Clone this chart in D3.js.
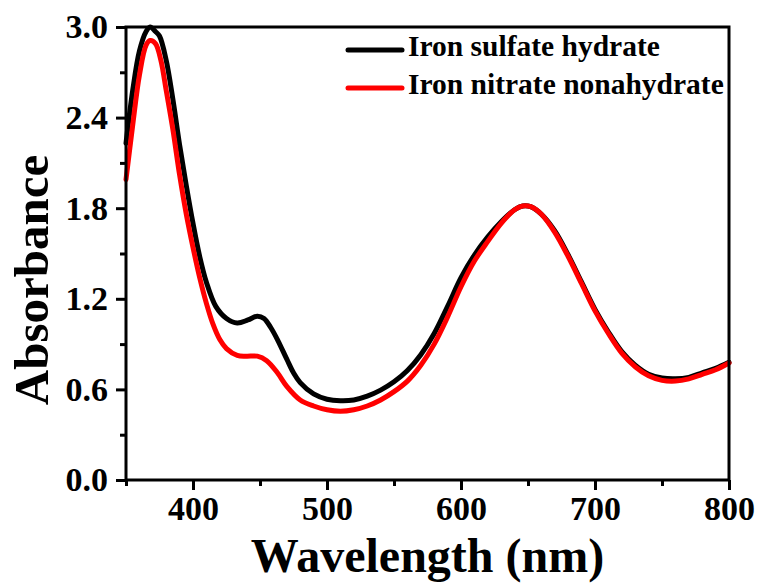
<!DOCTYPE html>
<html>
<head>
<meta charset="utf-8">
<script src="https://cdn.jsdelivr.net/npm/d3@7"></script>
<style>
  html, body { margin: 0; padding: 0; background: #fff; }
  svg { display: block; }
  text { font-family: "Liberation Serif", "Times New Roman", serif; font-weight: bold; fill: #000; }
</style>
</head>
<body>
<svg id="chart" width="764" height="587"></svg>
<script>
// UV-Vis absorbance spectra
const seriesNames = ["Iron sulfate hydrate", "Iron nitrate nonahydrate"];
const seriesColors = ["#000000", "#ff0000"];

const sulfateWavelength = [350, 355, 360, 365, 368, 372, 375, 380, 385, 390, 395, 400, 405, 410, 417, 425, 433, 441, 448, 453, 458, 463, 470, 475, 480, 490, 500, 510, 520, 530, 540, 550, 560, 570, 580, 590, 600, 610, 620, 630, 640, 646, 652, 660, 670, 680, 690, 700, 710, 720, 730, 740, 750, 760, 770, 780, 790, 800];
const sulfateAbsorbance = [2.23, 2.58, 2.84, 2.97, 3.0, 2.97, 2.94, 2.78, 2.52, 2.22, 1.95, 1.70, 1.48, 1.31, 1.15, 1.07, 1.04, 1.06, 1.085, 1.07, 1.01, 0.93, 0.80, 0.71, 0.645, 0.57, 0.535, 0.525, 0.53, 0.555, 0.595, 0.65, 0.725, 0.83, 0.97, 1.15, 1.34, 1.49, 1.61, 1.71, 1.79, 1.815, 1.81, 1.76, 1.65, 1.49, 1.31, 1.13, 0.98, 0.85, 0.76, 0.70, 0.675, 0.67, 0.68, 0.71, 0.74, 0.78];

const nitrateWavelength = [350, 355, 360, 365, 368, 372, 376, 380, 385, 390, 395, 400, 405, 410, 415, 420, 425, 433, 440, 448, 455, 463, 470, 480, 490, 500, 510, 520, 530, 540, 550, 560, 570, 580, 590, 600, 610, 620, 630, 640, 646, 652, 660, 670, 680, 690, 700, 710, 720, 730, 740, 750, 760, 770, 780, 790, 800];
const nitrateAbsorbance = [1.99, 2.35, 2.68, 2.88, 2.91, 2.89, 2.78, 2.58, 2.32, 2.02, 1.76, 1.54, 1.34, 1.17, 1.03, 0.93, 0.87, 0.825, 0.82, 0.82, 0.79, 0.71, 0.62, 0.53, 0.49, 0.465, 0.455, 0.465, 0.49, 0.53, 0.585, 0.655, 0.76, 0.90, 1.08, 1.28, 1.45, 1.58, 1.70, 1.79, 1.815, 1.81, 1.76, 1.64, 1.48, 1.30, 1.12, 0.97, 0.84, 0.75, 0.69, 0.66, 0.655, 0.67, 0.70, 0.73, 0.775];

const xMajorTicks = [400, 500, 600, 700, 800];
const xMinorTicks = [350, 450, 550, 650, 750];
const yMajorTicks = [0.0, 0.6, 1.2, 1.8, 2.4, 3.0];
const yMinorTicks = [0.3, 0.9, 1.5, 2.1, 2.7];

const xTitle = "Wavelength (nm)";
const yTitle = "Absorbance";

const svg = d3.select("#chart");
const plot = { left: 126, right: 729, top: 27, bottom: 480 };

const x = d3.scaleLinear().domain([350, 800]).range([plot.left, plot.right]);
const y = d3.scaleLinear().domain([0, 3.0]).range([plot.bottom, plot.top]);

const series = [
  { name: seriesNames[0], color: seriesColors[0],
    points: sulfateWavelength.map((w, i) => [w, sulfateAbsorbance[i]]) },
  { name: seriesNames[1], color: seriesColors[1],
    points: nitrateWavelength.map((w, i) => [w, nitrateAbsorbance[i]]) }
];

// curves
const line = d3.line()
  .x(d => x(d[0]))
  .y(d => y(d[1]))
  .curve(d3.curveCatmullRom.alpha(0.5));

svg.append("g")
  .selectAll("path")
  .data(series)
  .join("path")
  .attr("d", d => line(d.points))
  .attr("fill", "none")
  .attr("stroke", d => d.color)
  .attr("stroke-width", 5)
  .attr("stroke-linejoin", "round")
  .attr("stroke-linecap", "round");

// frame
svg.append("rect")
  .attr("x", plot.left).attr("y", plot.top)
  .attr("width", plot.right - plot.left)
  .attr("height", plot.bottom - plot.top)
  .attr("fill", "none")
  .attr("stroke", "#000")
  .attr("stroke-width", 3);

// bottom axis
const xAxis = svg.append("g").attr("transform", `translate(0,${plot.bottom})`);
xAxis.call(d3.axisBottom(x).tickValues(xMajorTicks).tickSize(10).tickPadding(6).tickFormat(d3.format("d")));
xAxis.append("g").call(d3.axisBottom(x).tickValues(xMinorTicks).tickSize(6).tickFormat(""));
xAxis.selectAll(".domain").remove();
xAxis.selectAll("line").attr("stroke", "#000").attr("stroke-width", 3);
xAxis.selectAll("text")
  .style("font-family", "'Liberation Serif', serif")
  .style("font-weight", "bold")
  .style("font-size", "34px")
  .attr("fill", "#000");

// left axis
const yAxis = svg.append("g").attr("transform", `translate(${plot.left},0)`);
yAxis.call(d3.axisLeft(y).tickValues(yMajorTicks).tickSize(10).tickPadding(8).tickFormat(d3.format(".1f")));
yAxis.append("g").call(d3.axisLeft(y).tickValues(yMinorTicks).tickSize(6).tickFormat(""));
yAxis.selectAll(".domain").remove();
yAxis.selectAll("line").attr("stroke", "#000").attr("stroke-width", 3);
yAxis.selectAll("text")
  .style("font-family", "'Liberation Serif', serif")
  .style("font-weight", "bold")
  .style("font-size", "34px")
  .attr("fill", "#000");

// axis titles
svg.append("text")
  .attr("x", (plot.left + plot.right) / 2)
  .attr("y", 572)
  .attr("text-anchor", "middle")
  .style("font-size", "48px")
  .text(xTitle);

svg.append("text")
  .attr("transform", "translate(48,280) rotate(-90)")
  .attr("text-anchor", "middle")
  .style("font-size", "49px")
  .text(yTitle);

// legend
const legend = svg.append("g");
const legendRows = [50, 88];
series.forEach((s, i) => {
  legend.append("line")
    .attr("x1", 348).attr("x2", 402)
    .attr("y1", legendRows[i]).attr("y2", legendRows[i])
    .attr("stroke", s.color)
    .attr("stroke-width", 5)
    .attr("stroke-linecap", "round");
  legend.append("text")
    .attr("x", 408)
    .attr("y", legendRows[i] + 6)
    .style("font-size", "29.5px")
    .text(s.name);
});
</script>
</body>
</html>
